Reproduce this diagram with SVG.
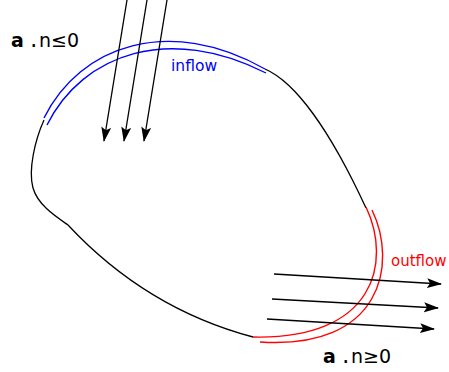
<svg xmlns="http://www.w3.org/2000/svg" width="449" height="372" viewBox="0 0 449 372">
<defs>
<marker id="ah" markerUnits="userSpaceOnUse" markerWidth="16" markerHeight="12" refX="14" refY="5" orient="auto" viewBox="0 0 16 12">
<path d="M0,0 L15,5 L0,10 L3,5 z" fill="#000"/>
</marker>
<style>
.ol{fill:none;stroke:#000;stroke-width:1.3}
.bl{fill:none;stroke:#0000ff;stroke-width:1.4}
.rd{fill:none;stroke:#ff0000;stroke-width:1.4}
.ar{fill:none;stroke:#000;stroke-width:1.3;marker-end:url(#ah)}
.t{font-family:"DejaVu Sans",sans-serif;font-size:19px;fill:#000}
</style>
</defs>
<g id="region">
<path class="ol" d="M44,120 C35,140 28,170 33,188 C38,205 55,216 68,225 C110,270 170,315 253,337"/>
<path class="ol" d="M265,69 C295,82 330,130 366,208"/>
</g>
<g id="inflow">
<path class="bl" d="M44,118 C80,45 170,15 265,69"/>
<path class="bl" d="M47,125 C83,53 170,24 266,73"/>
<text x="171" y="71" font-family="DejaVu Sans, sans-serif" font-size="15.5" fill="#0000ff">inflow</text>
</g>
<g id="outflow">
<path class="rd" d="M366,207 C392,262 375,340 253,337"/>
<path class="rd" d="M372,210 C398,264 382,350 260,342"/>
<text x="391" y="266" font-family="DejaVu Sans, sans-serif" font-size="15" fill="#ff0000">outflow</text>
</g>
<g id="labels">
<text class="t" x="11" y="47"><tspan font-weight="bold">a</tspan><tspan x="28" font-family="DejaVu Sans Mono, monospace">.</tspan><tspan x="39">n≤0</tspan></text>
<text class="t" x="323" y="363"><tspan font-weight="bold">a</tspan><tspan x="340" font-family="DejaVu Sans Mono, monospace">.</tspan><tspan x="351">n≥0</tspan></text>
</g>
<g id="connectors">
<path class="ar" d="M127,0 L104,141"/>
<path class="ar" d="M147,0 L124,141"/>
<path class="ar" d="M167,0 L144,141"/>
<path class="ar" d="M274,274 L441,284"/>
<path class="ar" d="M272,299 L438,308"/>
<path class="ar" d="M267,319 L434,329"/>
</g>
</svg>
